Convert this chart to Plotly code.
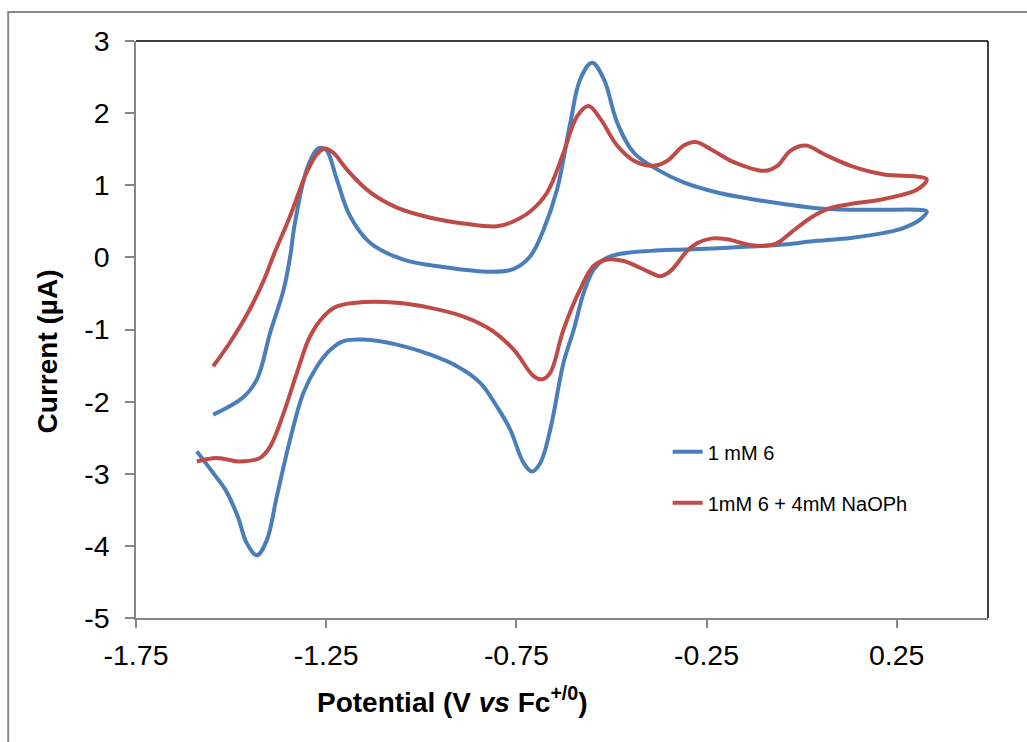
import plotly.graph_objects as go

# ---- data (potential in V vs Fc+/0, current in microampere) ----
blue_E = [-1.547, -1.468, -1.432, -1.397, -1.362, -1.345, -1.333, -1.301, -1.274, -1.261, -1.248,
          -1.222, -1.187, -1.134, -1.047, -0.932, -0.818, -0.757, -0.713, -0.678, -0.643,
          -0.608, -0.582, -0.551, -0.520, -0.485, -0.441, -0.380, -0.310, -0.222, -0.134,
          -0.047, 0.041, 0.129, 0.217, 0.304, 0.329,
          0.313, 0.269, 0.217, 0.129, 0.041, -0.047, -0.134, -0.222, -0.310, -0.397,
          -0.485, -0.520, -0.547, -0.573, -0.599, -0.626, -0.661, -0.687, -0.709, -0.731,
          -0.766, -0.801, -0.845, -0.906, -0.976, -1.064, -1.152, -1.204, -1.239, -1.274,
          -1.310, -1.345, -1.380, -1.406, -1.432, -1.459, -1.482, -1.515, -1.547, -1.590]
blue_I = [-2.18, -1.94, -1.69, -1.04, -0.45, 0.00, 0.45, 1.22, 1.50, 1.52, 1.48,
          1.08, 0.57, 0.20, -0.03, -0.14, -0.20, -0.16, 0.02, 0.39, 0.94,
          1.87, 2.47, 2.70, 2.47, 1.87, 1.45, 1.22, 1.04, 0.90, 0.81,
          0.74, 0.68, 0.66, 0.66, 0.66, 0.64,
          0.53, 0.41, 0.34, 0.27, 0.23, 0.18, 0.15, 0.125, 0.11, 0.09,
          0.04, -0.03, -0.17, -0.49, -1.0, -1.46, -2.39, -2.85, -2.97, -2.85,
          -2.39, -2.07, -1.74, -1.51, -1.35, -1.21, -1.14, -1.16, -1.28, -1.51,
          -1.88, -2.53, -3.32, -3.92, -4.13, -3.96, -3.60, -3.22, -2.99, -2.69]

red_E = [-1.547, -1.503, -1.459, -1.415, -1.389, -1.345, -1.301, -1.274, -1.253, -1.231,
         -1.196, -1.134, -1.064, -0.976, -0.889, -0.801, -0.766, -0.713, -0.669, -0.626,
         -0.590, -0.560, -0.529, -0.485, -0.441, -0.389, -0.353, -0.310, -0.279, -0.239,
         -0.178, -0.099, -0.064, -0.029, 0.011, 0.059, 0.129, 0.217, 0.304, 0.329,
         0.304, 0.217, 0.129, 0.068, 0.024, -0.029, -0.064, -0.099, -0.143, -0.196,
         -0.239, -0.274, -0.301, -0.345, -0.371, -0.406, -0.468, -0.511, -0.547, -0.582,
         -0.626, -0.661, -0.682, -0.704, -0.757, -0.818, -0.889, -0.976, -1.064, -1.152,
         -1.222, -1.257, -1.292, -1.327, -1.362, -1.397, -1.424, -1.476, -1.538, -1.590]
red_I = [-1.51, -1.18, -0.80, -0.33, 0.02, 0.57, 1.18, 1.43, 1.51, 1.45,
         1.22, 0.90, 0.69, 0.55, 0.47, 0.43, 0.48, 0.64, 0.90, 1.45,
         1.96, 2.10, 1.92, 1.55, 1.34, 1.27, 1.34, 1.55, 1.60, 1.50,
         1.32, 1.20, 1.27, 1.48, 1.55, 1.43, 1.27, 1.15, 1.12, 1.08,
         0.94, 0.81, 0.74, 0.67, 0.55, 0.34, 0.20, 0.16, 0.18, 0.25,
         0.26, 0.20, 0.09, -0.19, -0.26, -0.19, -0.05, -0.03, -0.12, -0.44,
         -1.0, -1.60, -1.69, -1.65, -1.28, -1.0, -0.82, -0.70, -0.63, -0.62,
         -0.68, -0.82, -1.09, -1.60, -2.16, -2.62, -2.78, -2.83, -2.78, -2.83]

series_names = ["1 mM 6", "1mM 6 + 4mM NaOPh"]
series_colors = ["#4A7EBB", "#BE4B48"]

x_ticks = [-1.75, -1.25, -0.75, -0.25, 0.25]
x_tick_labels = ["-1.75", "-1.25", "-0.75", "-0.25", "0.25"]
y_ticks = [3, 2, 1, 0, -1, -2, -3, -4, -5]
y_tick_labels = ["3", "2", "1", "0", "-1", "-2", "-3", "-4", "-5"]

FONT = "Arial, Liberation Sans, sans-serif"

fig = go.Figure()
for name, color, E, I, grp in [(series_names[0], series_colors[0], blue_E, blue_I, "a"),
                               (series_names[1], series_colors[1], red_E, red_I, "b")]:
    fig.add_trace(go.Scatter(
        x=E, y=I, mode="lines", name=name, legendgroup=grp,
        line=dict(color=color, width=4, shape="spline", smoothing=1.05),
    ))

axis_common = dict(
    showgrid=False, zeroline=False, showline=True, linecolor="#868686", linewidth=1.5,
    ticks="outside", tickcolor="#868686", tickwidth=1.5,
    tickfont=dict(family=FONT, size=28.5, color="#000000"),
)

fig.update_layout(
    width=1027, height=742,
    margin=dict(l=136, r=39, t=41, b=124),
    paper_bgcolor="white", plot_bgcolor="white",
    showlegend=True,
    legend=dict(
        x=0.624, y=0.322, xanchor="left", yanchor="top",
        font=dict(family=FONT, size=20, color="#000000"),
        bgcolor="rgba(0,0,0,0)", traceorder="grouped", tracegroupgap=22,
    ),
    xaxis=dict(range=[-1.75, 0.49], tickvals=x_ticks, ticktext=x_tick_labels,
               ticklen=8, ticklabelstandoff=3, **axis_common),
    yaxis=dict(range=[-5, 3], tickvals=y_ticks, ticktext=y_tick_labels,
               ticklen=9, ticklabelstandoff=10, **axis_common),
    annotations=[
        dict(text="<b>Current (µA)</b>", xref="paper", yref="paper",
             x=-0.1045, y=0.462, textangle=-90, showarrow=False,
             font=dict(family=FONT, size=28, color="#000000"),
             xanchor="center", yanchor="middle"),
        dict(text="<b>Potential (V <i>vs</i> Fc<sup>+/0</sup>)</b>", xref="paper", yref="paper",
             x=0.371, y=-0.142, showarrow=False,
             font=dict(family=FONT, size=28, color="#000000"),
             xanchor="center", yanchor="middle"),
    ],
    shapes=[
        # outer chart border
        dict(type="rect", xref="paper", yref="paper", x0=-0.150, y0=-0.4, x1=1.2, y1=1.0503,
             line=dict(color="#898989", width=2), layer="below"),
        # plot-area border (top and right)
        dict(type="line", xref="paper", yref="paper", x0=0, y0=1, x1=1, y1=1,
             line=dict(color="#000000", width=1.5)),
        dict(type="line", xref="paper", yref="paper", x0=1, y0=0, x1=1, y1=1,
             line=dict(color="#000000", width=1.5)),
    ],
)

fig.write_html("out.html", config={"displayModeBar": False},
               post_script="document.body.style.margin='0';")
